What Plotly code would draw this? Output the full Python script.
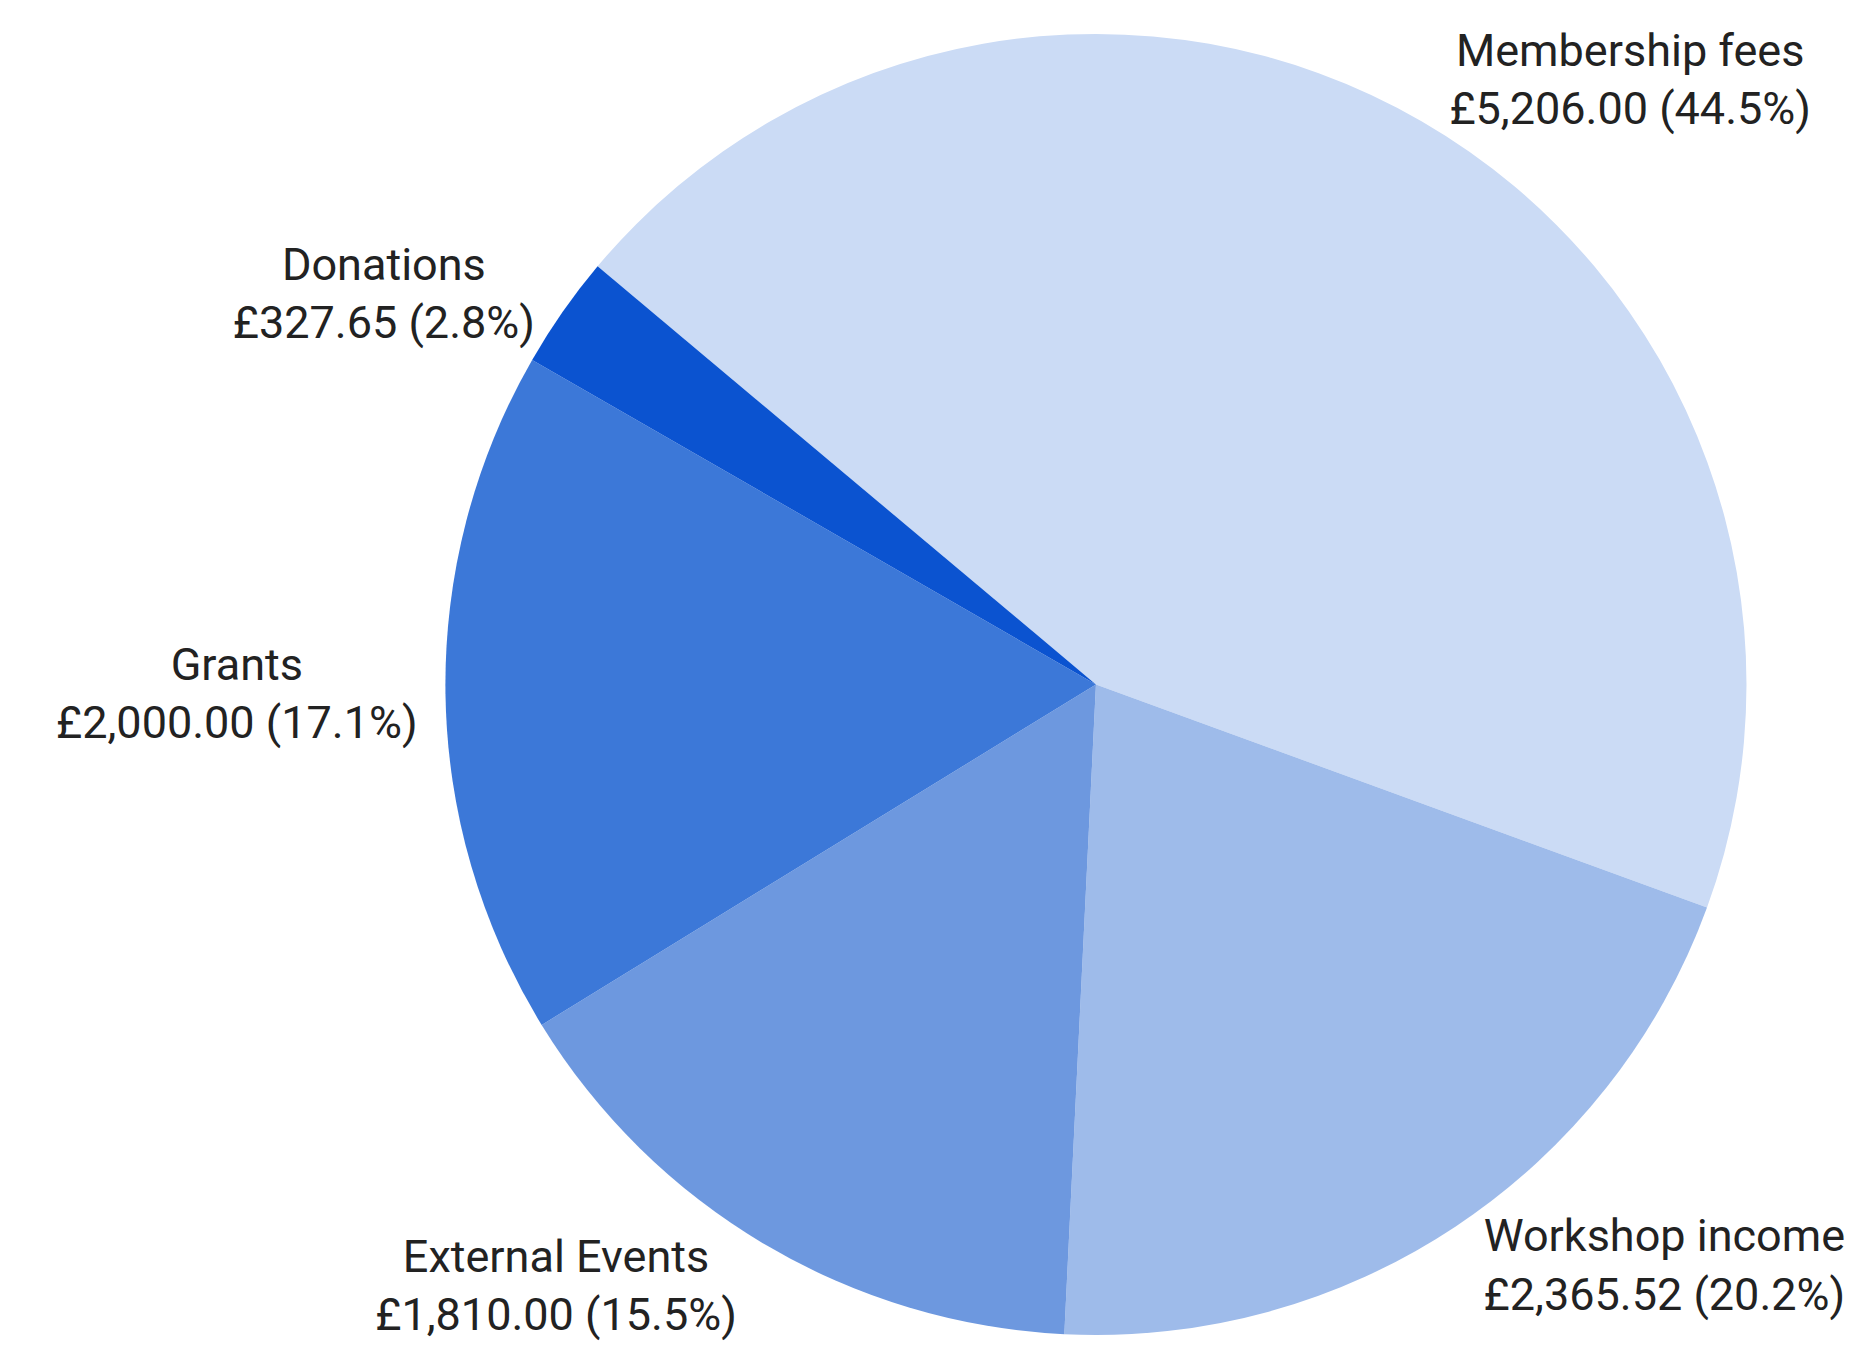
import plotly.graph_objects as go

labels = ["Membership fees", "Workshop income", "External Events", "Grants", "Donations"]
values = [5206.00, 2365.52, 1810.00, 2000.00, 327.65]
colors = ["#cbdbf5", "#9ebbea", "#6d98df", "#3c78d8", "#0b53d0"]

fig = go.Figure(go.Pie(
    labels=labels,
    values=values,
    sort=False,
    direction="clockwise",
    rotation=310,
    marker=dict(colors=colors, line=dict(width=0)),
    textposition="outside",
    texttemplate="%{label}<br>£%{value:,.2f} (%{percent:.1%})",
    textfont=dict(family="Roboto", size=45, color="#222222"),
    domain=dict(x=[0.2338, 0.9304], y=[0.0156, 0.9808]),
    showlegend=False,
    hoverinfo="label+value+percent",
))

fig.update_layout(
    width=1869,
    height=1348,
    margin=dict(l=0, r=0, t=0, b=0),
    paper_bgcolor="white",
    plot_bgcolor="white",
)

fig.write_html("out.html")
